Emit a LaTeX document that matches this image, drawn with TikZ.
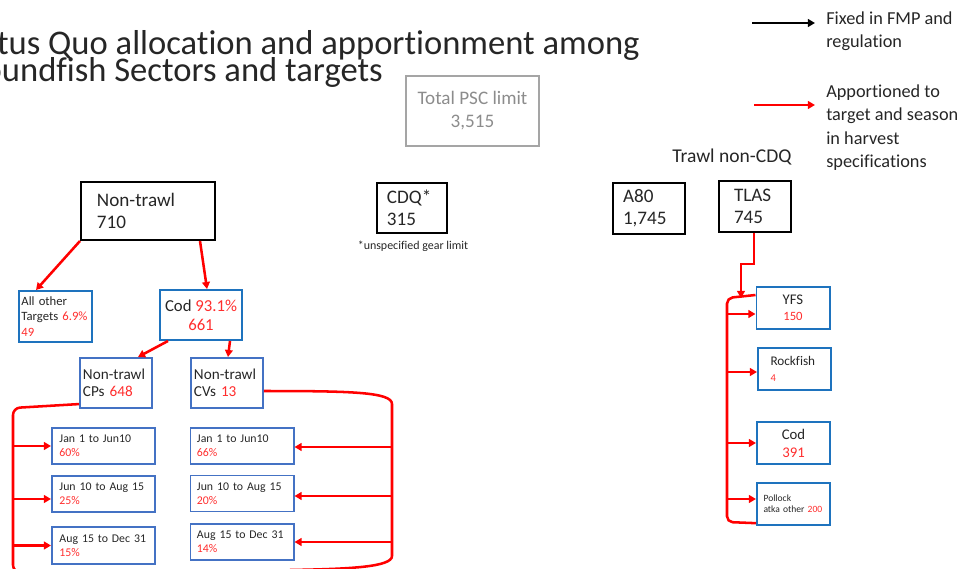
\documentclass[tikz,border=0pt]{standalone}
\usepackage{fontspec}
\setmainfont[Ligatures=NoCommon]{Carlito}
\usetikzlibrary{arrows.meta}

\definecolor{boxblue}{RGB}{30,115,190}
\definecolor{seasonblue}{RGB}{68,114,196}
\definecolor{arrowred}{RGB}{255,0,0}
\definecolor{numred}{RGB}{255,45,45}
\definecolor{pscgray}{RGB}{165,165,165}
\definecolor{psctext}{RGB}{140,140,140}
\definecolor{inkgray}{RGB}{38,38,38}
\newcommand{\rnum}[1]{\textcolor{numred}{#1}}

\begin{document}
\begin{tikzpicture}[x=0.025cm, y=-0.025cm,
    sectorbox/.style={rectangle, draw=black, line width=1.4pt, inner sep=1pt, align=left, text=inkgray, font=\fontsize{13.6}{15.6}\selectfont},
    targetbox/.style={rectangle, draw=boxblue, line width=1.4pt, inner sep=1pt, align=left, text=inkgray},
    seasonbox/.style={rectangle, draw=seasonblue, line width=1.4pt, inner sep=1pt, align=left, text=inkgray, minimum width=2.575cm, minimum height=0.9cm, font=\fontsize{8.4}{9.9}\selectfont},
    apportion/.style={-{Triangle[length=5pt, width=5.5pt]}, draw=arrowred, line width=1.8pt},
    redline/.style={draw=arrowred, line width=1.8pt},
    fixed/.style={-{Triangle[length=5pt, width=5.5pt]}, draw=black, line width=1.5pt},
    legendtext/.style={anchor=base west, align=left, inner sep=0pt, text=inkgray, font=\fontsize{13}{16.7}\selectfont}
]
\clip (0,0) rectangle (972,569);

% title
\node[anchor=base east, inner sep=0pt, text=inkgray, font=\fontsize{24.6}{28}\selectfont] (title1) at (640,55) {Status Quo allocation and apportionment among};
\node[anchor=base east, inner sep=0pt, text=inkgray, font=\fontsize{24.6}{28}\selectfont] (title2) at (383,82) {Groundfish Sectors and targets};

% legend
\node[legendtext] (legfixed) at (826,47.5) {Fixed in FMP and\\regulation};
\node[legendtext] (legapp) at (826,167.5) {Apportioned to\\target and season\\in harvest\\specifications};
\coordinate (fixstart) at (752,23);
\coordinate (fixend) at (815,23);
\coordinate (appstart) at (754,105);
\coordinate (append) at (815,105);
\draw[fixed] (fixstart) -- (fixend);
\draw[apportion] (appstart) -- (append);

% total and sectors
\node[draw=pscgray, line width=1.3pt, minimum width=3.325cm, minimum height=1.75cm, align=center, text=psctext, font=\fontsize{13.6}{16.3}\selectfont] (psc) at (472.5,111) {Total PSC limit\\3,515};
\node[sectorbox, minimum width=3.35cm, minimum height=1.45cm, text width=2.55cm] (nontrawl) at (148,211) {Non-trawl\\710};
\node[sectorbox, minimum width=1.75cm, minimum height=1.25cm, text width=1.25cm] (cdq) at (412,208) {CDQ*\\315};
\node[anchor=base, inner sep=0pt, text=inkgray, font=\fontsize{8.5}{10}\selectfont] (cdqnote) at (413,250) {*unspecified gear limit};
\node[sectorbox, minimum width=1.8cm, minimum height=1.275cm, text width=1.3cm] (a80) at (649,208.5) {A80\\1,745};
\node[sectorbox, minimum width=1.8cm, minimum height=1.275cm, text width=1.05cm] (tlas) at (755,206.5) {TLAS\\745};
\node[anchor=base west, inner sep=0pt, text=inkgray, font=\fontsize{13.9}{16}\selectfont] (trawllabel) at (672,163) {Trawl non-CDQ};

% non-trawl split
\node[targetbox, minimum width=1.825cm, minimum height=1.275cm, text width=1.7cm, font=\fontsize{9}{11}\selectfont] (allother) at (55.5,316.5) {All other\\Targets \rnum{6.9\%}\\\rnum{49}};
\node[targetbox, minimum width=2.05cm, minimum height=1.25cm, align=center, font=\fontsize{11.9}{13.5}\selectfont] (cod) at (201,315) {Cod \rnum{93.1\%}\\\rnum{661}};
\node[seasonbox, minimum width=1.8cm, minimum height=1.25cm, text width=1.65cm, font=\fontsize{10.8}{12.4}\selectfont] (cps) at (116,383) {Non-trawl\\CPs \rnum{648}};
\node[seasonbox, minimum width=1.8cm, minimum height=1.25cm, text width=1.65cm, font=\fontsize{10.8}{12.4}\selectfont] (cvs) at (227,383) {Non-trawl\\CVs \rnum{13}};

% seasons
\node[seasonbox, text width=2.2cm] (cpjan) at (103.5,446) {Jan 1 to Jun10\\\rnum{60\%}};
\node[seasonbox, text width=2.2cm] (cpjun) at (103.5,494) {Jun 10 to Aug 15\\\rnum{25\%}};
\node[seasonbox, text width=2.2cm, minimum height=0.925cm] (cpaug) at (103.5,545.5) {Aug 15 to Dec 31\\\rnum{15\%}};
\node[seasonbox, text width=2.25cm] (cvjan) at (242,446) {Jan 1 to Jun10\\\rnum{66\%}};
\node[seasonbox, text width=2.25cm] (cvjun) at (242,493.5) {Jun 10 to Aug 15\\\rnum{20\%}};
\node[seasonbox, text width=2.25cm] (cvaug) at (242,542) {Aug 15 to Dec 31\\\rnum{14\%}};

% TLAS targets
\node[targetbox, minimum width=1.825cm, minimum height=1.05cm, align=center, font=\fontsize{10.5}{11.3}\selectfont] (yfs) at (793,308) {YFS\\{\fontsize{9}{11.3}\selectfont\rnum{150}}};
\node[targetbox, minimum width=1.825cm, minimum height=1.05cm, text width=1.2cm, font=\fontsize{9.4}{11.3}\selectfont] (rockfish) at (794.5,369) {Rockfish\\{\fontsize{7.5}{11.3}\selectfont\rnum{4}}};
\node[targetbox, minimum width=1.825cm, minimum height=1.05cm, align=center, font=\fontsize{10.5}{12.8}\selectfont] (tlascod) at (793.5,443) {Cod\\\rnum{391}};
\node[targetbox, minimum width=1.825cm, minimum height=1.05cm, text width=1.5cm, font=\fontsize{6.8}{7.8}\selectfont] (pollock) at (793.5,504) {Pollock\\atka other \rnum{200}};

% apportionment arrows
\draw[apportion] (nontrawl.south west) -- (36,0 |- allother.north);
\draw[apportion] (200,0 |- nontrawl.south) -- (207,0 |- cod.north);
\draw[apportion] (168,0 |- cod.south) -- (138,0 |- cps.north);
\draw[apportion] (230,0 |- cod.south) -- (228,0 |- cvs.north);

% CP seasons
\coordinate (cpbrtop) at (13,408);
\coordinate (cpbrbot) at (13,572);
\draw[redline, rounded corners=5pt] ([yshift=3.5pt]cps.south west) -- (cpbrtop) -- (cpbrbot) -- (60,574);
\draw[apportion] (cpbrtop |- cpjan.west) -- (cpjan.west);
\draw[apportion] (cpbrtop |- 0,499) -- (cpjun.west |- 0,499);
\draw[apportion] (cpbrtop |- cpaug.west) -- (cpaug.west);

% CV seasons
\coordinate (cvbrtop) at (392,404);
\coordinate (cvbrbot) at (392,556);
\draw[redline] ([yshift=-5.7pt]cvs.east) .. controls (350,391) and (392,392) .. (cvbrtop) -- (cvbrbot) .. controls (392,567) and (350,569) .. (290,570);
\draw[apportion] (cvbrtop |- 0,447) -- (cvjan.east |- 0,447);
\draw[apportion] (cvbrtop |- 0,496) -- (cvjun.east |- 0,496);
\draw[apportion] (cvbrtop |- cvaug.east) -- (cvaug.east);

% TLAS targets
\coordinate (tlasjog) at (741,264);
\coordinate (tlasbr) at (727,298);
\coordinate (tlasbrbot) at (727,522);
\draw[apportion] (754,0 |- tlas.south) |- (tlasjog) -- (tlasjog |- tlasbr);
\draw[redline, rounded corners=4pt] ([yshift=-6.4pt]yfs.north west) -- (tlasbr) -- (tlasbrbot) -- ([yshift=2pt]pollock.south west);
\draw[apportion] (tlasbr |- 0,314) -- (yfs.west |- 0,314);
\draw[apportion] (tlasbr |- 0,372) -- (rockfish.west |- 0,372);
\draw[apportion] (tlasbr |- tlascod.west) -- (tlascod.west);
\draw[apportion] (tlasbr |- 0,499) -- (pollock.west |- 0,499);
\end{tikzpicture}
\end{document}
